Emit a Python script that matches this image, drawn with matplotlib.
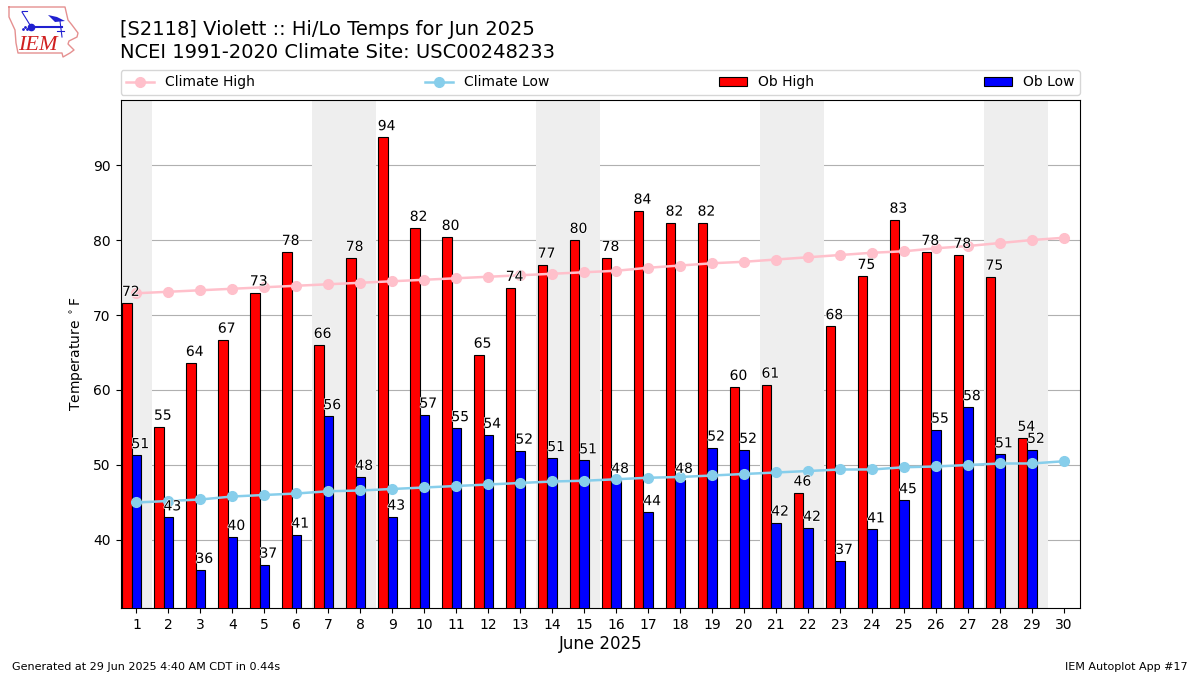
import matplotlib
matplotlib.use("Agg")
import matplotlib.pyplot as plt
import matplotlib.patheffects as pe
import numpy as np

days = np.arange(1, 31)
ob_days = np.arange(1, 30)
ob_high = [71.6, 55.1, 63.6, 66.7, 73.0, 78.4, 66.0, 77.6, 93.7, 81.6, 80.4, 64.7, 73.6, 76.7, 80.0,
           77.6, 83.9, 82.3, 82.3, 60.4, 60.7, 46.3, 68.5, 75.2, 82.7, 78.4, 78.0, 75.1, 53.6]
ob_low = [51.3, 43.0, 36.0, 40.4, 36.7, 40.7, 56.5, 48.4, 43.1, 56.7, 54.9, 54.0, 51.9, 50.9, 50.6,
          48.0, 43.7, 48.0, 52.3, 52.0, 42.3, 41.6, 37.2, 41.4, 45.3, 54.7, 57.7, 51.4, 52.0]
climate_high = [72.9, 73.1, 73.3, 73.5, 73.7, 73.9, 74.1, 74.3, 74.5, 74.7, 74.9, 75.1, 75.3, 75.5, 75.7,
                75.9, 76.3, 76.6, 76.9, 77.1, 77.4, 77.7, 78.0, 78.3, 78.5, 78.9, 79.2, 79.6, 80.0, 80.3]
climate_low = [45.0, 45.2, 45.4, 45.8, 46.0, 46.2, 46.5, 46.6, 46.8, 47.0, 47.2, 47.4, 47.6, 47.8, 47.9,
               48.1, 48.3, 48.4, 48.6, 48.8, 49.0, 49.2, 49.4, 49.4, 49.7, 49.8, 50.0, 50.2, 50.2, 50.5]
weekends = [(0.5, 1.5), (6.5, 8.5), (13.5, 15.5), (20.5, 22.5), (27.5, 29.5)]

fig = plt.figure(figsize=(12, 6.75), dpi=100)
ax = fig.add_axes([120.5 / 1200, 1 - 608 / 675, 959.5 / 1200, 508 / 675])

for start, end in weekends:
    ax.axvspan(start, end, color="#eeeeee", lw=0, zorder=1)

ax.bar(ob_days - 0.3, ob_high, 0.3, color="red", edgecolor="black", lw=0.8, label="Ob High", zorder=3)
ax.bar(ob_days, ob_low, 0.3, color="blue", edgecolor="black", lw=0.8, label="Ob Low", zorder=3)
ax.plot(days, climate_high, color="pink", marker="o", lw=1.8, ms=7, label="Climate High", zorder=4)
ax.plot(days, climate_low, color="skyblue", marker="o", lw=1.8, ms=7, label="Climate Low", zorder=4)

halo = [pe.withStroke(linewidth=1, foreground="white")]
for d, hi, lo in zip(ob_days, ob_high, ob_low):
    ax.text(d - 0.18, hi + 0.55, f"{hi:.0f}", ha="center", va="bottom", fontsize=10, path_effects=halo, zorder=5)
    ax.text(d + 0.12, lo + 0.55, f"{lo:.0f}", ha="center", va="bottom", fontsize=10, path_effects=halo, zorder=5)

ax.set_xlim(0.5, 30.5)
ax.set_ylim(30.93, 98.67)
ax.set_xticks(days)
ax.set_yticks(np.arange(40, 100, 10))
ax.yaxis.grid(True, zorder=2)
ax.set_axisbelow(True)
ax.set_ylabel(r"Temperature $^\circ$F", labelpad=5)
ax.set_xlabel("June 2025", fontsize=12, labelpad=2.5)

ax.legend(ncol=4, mode="expand", loc="lower left", bbox_to_anchor=(0, 1.0098, 1, 0.05), borderaxespad=0)

fig.text(120 / 1200, 1 - 35 / 675, "[S2118] Violett :: Hi/Lo Temps for Jun 2025", fontsize=14, va="baseline")
fig.text(120 / 1200, 1 - 57.5 / 675, "NCEI 1991-2020 Climate Site: USC00248233", fontsize=14, va="baseline")
fig.text(12 / 1200, 1 - 670 / 675, "Generated at 29 Jun 2025 4:40 AM CDT in 0.44s", fontsize=8, va="baseline")
fig.text(1188 / 1200, 1 - 670 / 675, "IEM Autoplot App #17", fontsize=8, ha="right", va="baseline")

# rough logo, pixel coordinates
logo = fig.add_axes([0, 1 - 60 / 675, 90 / 1200, 60 / 675])
logo.set_xlim(0, 90)
logo.set_ylim(60, 0)
logo.axis("off")
outline_x = [9, 65, 68, 72, 78, 77, 69, 68, 74, 70, 63, 62, 18, 16, 15, 9, 9]
outline_y = [7, 7, 20, 25, 33, 37, 41, 44, 50, 53, 57, 53, 53, 43, 30, 17, 7]
logo.plot(outline_x, outline_y, color="#e59090", lw=1)
logo.plot([30, 62], [27, 27], color="#2020d0", lw=1.5)
logo.plot([31], [27], "o", color="#2020d0", ms=4.5)
logo.plot([22, 30], [12, 25], color="#2020d0", lw=0.8)
logo.plot([22, 27], [11, 11], color="#2020d0", lw=0.8)
logo.fill([48, 57, 65, 55], [15, 17, 21, 22], color="#2020d0", lw=0)
logo.plot([60, 62], [21, 37], color="#2020d0", lw=0.8)
logo.plot([57, 64], [31, 31], color="#2020d0", lw=0.8)
logo.plot([23, 25, 27], [29, 27, 29], ".", color="#2020d0", ms=2)
logo.text(37.5, 46, "IEM", color="#d02020", family="Liberation Serif", style="italic",
          fontsize=16, ha="center", va="center")

fig.savefig("out.png", dpi=100)
